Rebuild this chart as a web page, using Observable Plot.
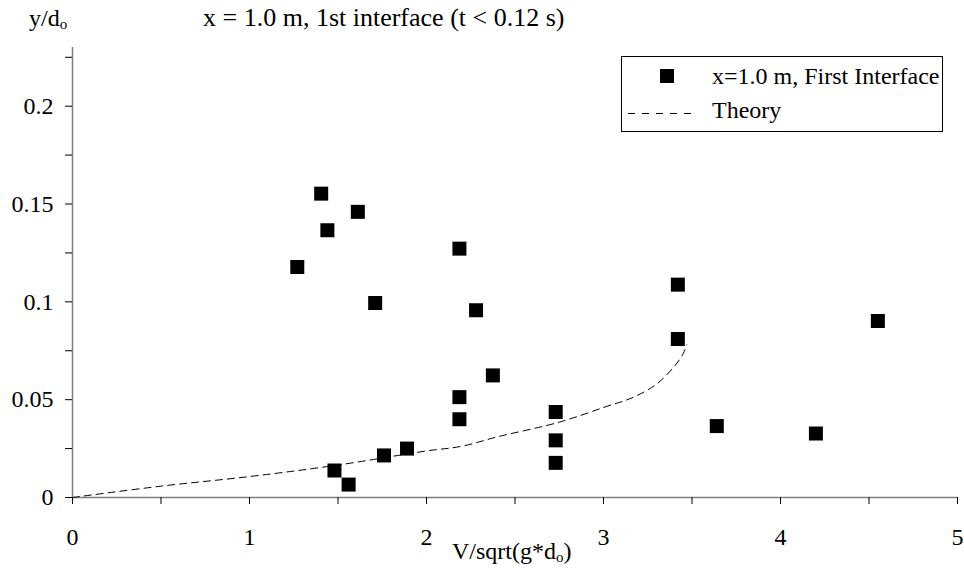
<!DOCTYPE html>
<html>
<head>
<meta charset="utf-8">
<script src="https://cdn.jsdelivr.net/npm/d3@7"></script>
<script src="https://cdn.jsdelivr.net/npm/@observablehq/plot@0.6"></script>
<style>
  html, body { margin: 0; padding: 0; background: #fff; }
  #chart { width: 964px; height: 569px; }
</style>
</head>
<body>
<div id="chart"></div>
<script>
// Measured points: x = V/sqrt(g*d_o), y = y/d_o
const measX = [1.27, 1.405, 1.44, 1.48, 1.56, 1.612, 1.71, 1.76, 1.89, 2.186, 2.186, 2.186, 2.28, 2.375, 2.73, 2.73, 2.73, 3.42, 3.42, 3.64, 4.2, 4.55];
const measY = [0.1178, 0.1553, 0.1366, 0.0138, 0.0066, 0.146, 0.0994, 0.0215, 0.025, 0.040, 0.0513, 0.1272, 0.0957, 0.0624, 0.0437, 0.0292, 0.0177, 0.1088, 0.081, 0.0365, 0.0327, 0.0902];

// Theory curve
const theoryX = [0, 0.5, 1.0, 1.5, 2.0, 2.2, 2.4, 2.75, 3.0, 3.17, 3.3, 3.4, 3.45, 3.47];
const theoryY = [0, 0.0058, 0.0107, 0.0166, 0.0238, 0.0262, 0.031, 0.0385, 0.046, 0.0513, 0.058, 0.067, 0.0735, 0.078];

const xMajor = [0, 1, 2, 3, 4, 5];
const xMinor = [0.5, 1.5, 2.5, 3.5, 4.5];
const yMajor = [0, 0.05, 0.1, 0.15, 0.2];
const yMinor = [0.025, 0.075, 0.125, 0.175, 0.225];

const titleText = "x = 1.0 m, 1st interface (t < 0.12 s)";
const legendPoints = "x=1.0 m, First Interface";
const legendTheory = "Theory";

const meas = measX.map((x, i) => ({x, y: measY[i]}));
const theory = theoryX.map((x, i) => ({x, y: theoryY[i]}));

const FONT = "'Liberation Serif', 'Times New Roman', serif";
const FS = 24;

const plot = Plot.plot({
  width: 964,
  height: 569,
  marginLeft: 72,
  marginRight: 7,
  marginTop: 47,
  marginBottom: 72,
  style: { fontFamily: FONT, fontSize: FS + "px", color: "#000", background: "#fff" },
  x: { domain: [0, 5] },
  y: { domain: [0, 0.23] },
  marks: [
    Plot.ruleY([0], { stroke: "#808080", strokeWidth: 1.5 }),
    Plot.ruleX([0], { stroke: "#808080", strokeWidth: 1.5 }),
    Plot.axisX(xMajor, { tickSize: 7, tickPadding: 23, tickFormat: d => String(d), label: null, stroke: "#000", fill: "#000", fontSize: FS }),
    Plot.axisX(xMinor, { tickSize: 7, tickFormat: () => "", label: null, stroke: "#000" }),
    Plot.axisY(yMajor, { tickSize: 7, tickPadding: 12, tickFormat: d => String(d), label: null, stroke: "#000", fill: "#000", fontSize: FS }),
    Plot.axisY(yMinor, { tickSize: 7, tickFormat: () => "", label: null, stroke: "#000" }),
    Plot.line(theory, { x: "x", y: "y", stroke: "#000", strokeWidth: 1, strokeDasharray: "7,5", curve: "catmull-rom" }),
    Plot.dot(meas, { x: "x", y: "y", symbol: "square", r: 7.9, fill: "#000", stroke: "none" })
  ]
});

document.getElementById("chart").appendChild(plot);

const svg = d3.select(plot);
const txt = (x, y, anchor, size) => svg.append("text")
  .attr("x", x).attr("y", y)
  .attr("text-anchor", anchor || "start")
  .attr("dominant-baseline", "middle")
  .style("font-family", FONT).style("font-size", (size || FS) + "px").attr("fill", "#000");

// y label with subscript
const yl = txt(29, 20, "start");
yl.append("tspan").text("y/d");
yl.append("tspan").style("font-size", "15px").attr("dy", 6).text("o");

// title
txt(203, 20, "start", 26).text(titleText);

// x label
const xl = txt(452, 553, "start");
xl.append("tspan").text("V/sqrt(g*d");
xl.append("tspan").style("font-size", "15px").attr("dy", 6).text("o");
xl.append("tspan").attr("dy", -6).text(")");

// legend
svg.append("rect").attr("x", 621.5).attr("y", 56.5).attr("width", 321).attr("height", 75)
  .attr("fill", "#fff").attr("stroke", "#000").attr("stroke-width", 1);
svg.append("rect").attr("x", 660).attr("y", 69).attr("width", 14).attr("height", 14).attr("fill", "#000");
txt(712, 78, "start").text(legendPoints);
svg.append("line").attr("x1", 628).attr("x2", 698).attr("y1", 113.5).attr("y2", 113.5)
  .attr("stroke", "#000").attr("stroke-width", 1).attr("stroke-dasharray", "7,7");
txt(712, 112, "start").text(legendTheory);
</script>
</body>
</html>
